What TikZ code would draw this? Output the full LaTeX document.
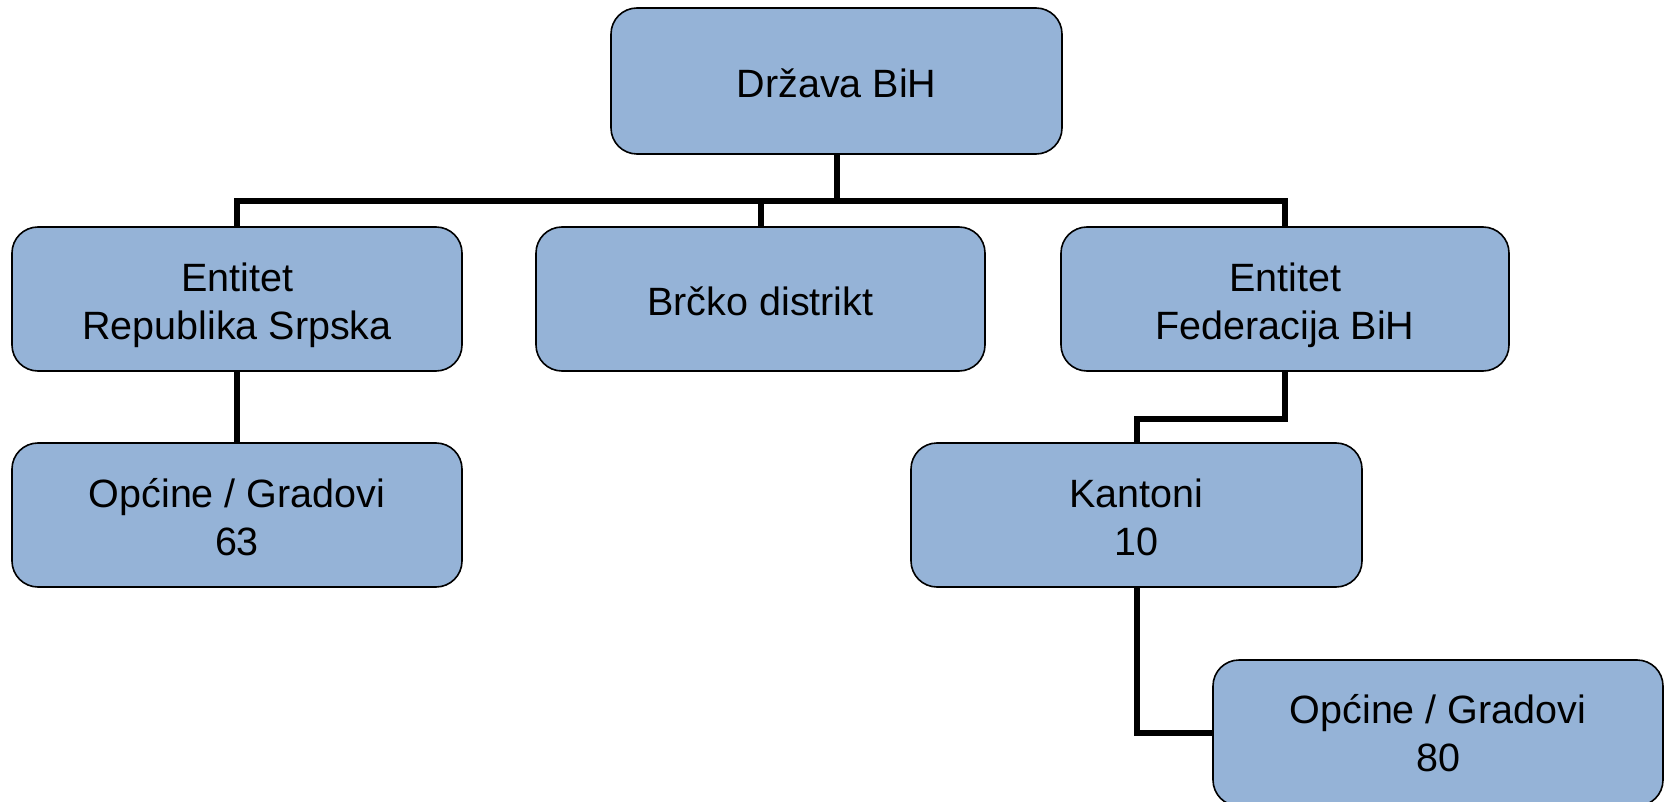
\documentclass[tikz,border=0pt]{standalone}
\usepackage{fontspec}
\setmainfont{Liberation Sans}
\definecolor{boxfill}{RGB}{149,179,215}
\begin{document}
\begin{tikzpicture}[x=1pt,y=-1pt,
  orgbox/.style={draw=black, line width=1.6pt, fill=boxfill, rounded corners=26pt, inner sep=0pt},
  boxtext/.style={align=center, inner sep=0pt, font=\fontsize{39.5}{48}\selectfont},
  link/.style={draw=black, line width=6pt, line join=miter}]
\useasboundingbox (0,0) rectangle (1665,802);
\fill[white] (0,0) rectangle (1665,802);
\node[orgbox, minimum width=451pt, minimum height=146pt] (top) at (836.5,81) {};
\node[orgbox, minimum width=450pt, minimum height=144pt] (L) at (237,299) {};
\node[orgbox, minimum width=449pt, minimum height=144pt] (M) at (760.5,299) {};
\node[orgbox, minimum width=448pt, minimum height=144pt] (R) at (1285,299) {};
\node[orgbox, minimum width=450pt, minimum height=144pt] (LO) at (237,515) {};
\node[orgbox, minimum width=451pt, minimum height=144pt] (K) at (1136.5,515) {};
\node[orgbox, minimum width=450pt, minimum height=146pt] (B) at (1438,733) {};
\node[boxtext] (topT) at (836.5,83) {Država BiH};
\node[boxtext] (LT) at (237,305) {Entitet\\Republika Srpska};
\node[boxtext] (MT) at (760.5,301) {Brčko distrikt};
\node[boxtext] (RT) at (1285,305) {Entitet\\Federacija BiH};
\node[boxtext] (LOT) at (237,517) {Općine / Gradovi\\63};
\node[boxtext] (KT) at (1136.5,517) {Kantoni\\10};
\node[boxtext] (BT) at (1438,733) {Općine / Gradovi\\80};
\coordinate (bus) at (0,201);
\coordinate (kbus) at (0,419);
\draw[link] (top.south) -- (top.south |- bus);
\draw[link] (L.north) -- (L.north |- bus) -- (R.north |- bus) -- (R.north);
\draw[link] (M.north) -- (M.north |- bus);
\draw[link] (L.south) -- (LO.north);
\draw[link] (R.south) -- (R.south |- kbus) -| (K.north);
\draw[link] (K.south) |- (B.west);
\end{tikzpicture}
\end{document}
